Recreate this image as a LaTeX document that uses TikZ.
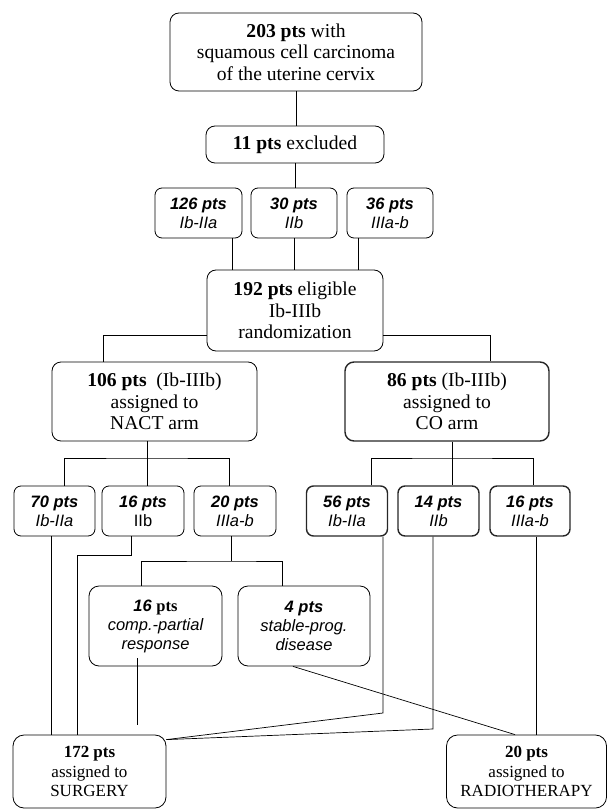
\documentclass[tikz,border=0pt]{standalone}
\usepackage{fontspec}
\setmainfont{Liberation Serif}
\newfontfamily\arialf{Liberation Sans}
\begin{document}
\begin{tikzpicture}[x=1pt,y=-1pt,
  box/.style={draw, line width=0.8pt, rounded corners=9pt, align=center, inner sep=0pt},
  big/.style={box, font=\fontsize{19.6}{21.3}\selectfont},
  end/.style={box, font=\fontsize{17}{19.5}\selectfont},
  sbox/.style={box, rounded corners=7pt, minimum height=50, font=\arialf\fontsize{16.5}{19}\selectfont},
  cobox/.style={line width=1.4pt, draw=black!85},
  conn/.style={line width=0.7pt}]
\useasboundingbox (0,0) rectangle (608,810);

% nodes
\node[big, minimum width=252, minimum height=78] (top) at (296,52)
  {\textbf{203 pts} with\\squamous cell carcinoma\\of the uterine cervix};
\node[big, minimum width=178, minimum height=37] (excl) at (295,144.5)
  {\textbf{11 pts} excluded};
\node[sbox, minimum width=87] (s1) at (198.5,213) {{\bfseries\itshape 126 pts}\\{\itshape Ib-IIa}};
\node[sbox, minimum width=86] (s2) at (294,213) {{\bfseries\itshape 30 pts}\\{\itshape IIb}};
\node[sbox, minimum width=86] (s3) at (390,213) {{\bfseries\itshape 36 pts}\\{\itshape IIIa-b}};
\node[big, minimum width=176, minimum height=81] (elig) at (295,310.5)
  {\textbf{192 pts} eligible\\Ib-IIIb\\randomization};
\node[big, minimum width=205, minimum height=79] (nact) at (154.5,401.5)
  {\textbf{106 pts}~~(Ib-IIIb)\\assigned to\\NACT arm};
\node[big, cobox, minimum width=204, minimum height=79] (co) at (447,401.5)
  {\textbf{86 pts} (Ib-IIIb)\\assigned to\\CO arm};
\node[sbox, minimum width=81] (n1) at (54.5,511) {{\bfseries\itshape 70 pts}\\{\itshape Ib-IIa}};
\node[sbox, minimum width=82] (n2) at (143,511) {{\bfseries\itshape 16 pts}\\IIb};
\node[sbox, minimum width=82] (n3) at (235,511) {{\bfseries\itshape 20 pts}\\{\itshape IIIa-b}};
\node[sbox, cobox, minimum width=81] (c1) at (347,511) {{\bfseries\itshape 56 pts}\\{\itshape Ib-IIa}};
\node[sbox, cobox, minimum width=81] (c2) at (438.5,511) {{\bfseries\itshape 14 pts}\\{\itshape IIb}};
\node[sbox, cobox, minimum width=80] (c3) at (530,511) {{\bfseries\itshape 16 pts}\\{\itshape IIIa-b}};
\node[sbox, rounded corners=10pt, minimum width=133, minimum height=80] (comp) at (155.5,626)
  {{\bfseries\itshape 16} {\rmfamily\bfseries pts}\\{\itshape comp.-partial}\\{\itshape response}};
\node[sbox, rounded corners=10pt, minimum width=132, minimum height=80] (stable) at (304,626)
  {{\bfseries\itshape 4 pts}\\{\itshape stable-prog.}\\{\itshape disease}};
\node[end, rounded corners=11pt, minimum width=153, minimum height=73] (surg) at (89.5,771.5)
  {\textbf{172 pts}\\assigned to\\SURGERY};
\node[end, rounded corners=11pt, minimum width=160, minimum height=73] (radio) at (526.5,771.5)
  {\textbf{20 pts}\\assigned to\\RADIOTHERAPY};

% helper coordinates
\coordinate (nbar) at (147,458);
\coordinate (cbar) at (452,458);
\coordinate (n2k) at (77,555);
\coordinate (n3bar) at (231,561);
\coordinate (compend) at (137,725);
\coordinate (c1k) at (383,713);
\coordinate (c2k) at (433,729);

% connectors
\draw[conn] (top.south) -- (top.south |- excl.north);
\draw[conn] (excl.south) -- (excl.south |- s2.north);
\draw[conn] ([xshift=33.5]s1.south) -- ([xshift=33.5]s1.south |- elig.north);
\draw[conn] (s2.south) -- (s2.south |- elig.north);
\draw[conn] ([xshift=-32]s3.south) -- ([xshift=-32]s3.south |- elig.north);
\draw[conn] ([yshift=-24.5]elig.west) -| ([xshift=-51.5]nact.north);
\draw[conn] ([yshift=-24.5]elig.east) -| ([xshift=43]co.north);

\draw[conn] ([xshift=-7.5]nact.south) -- ([xshift=-7.5]nact.south |- n2.north);
\draw[conn] ([xshift=9.5]n1.north) |- (nbar) -| ([xshift=-6]n3.north);
\draw[conn] ([xshift=5]co.south) -- ([xshift=5]co.south |- c2.north);
\draw[conn] ([xshift=24]c1.north) |- (cbar) -| ([xshift=3]c3.north);

\draw[conn] ([xshift=-3.5]n1.south) -- ([xshift=-3.5]n1.south |- surg.north);
\draw[conn] ([xshift=-12]n2.south) |- (n2k) -- (n2k |- surg.north);
\draw[conn] ([xshift=-4]n3.south) -- (n3bar);
\draw[conn] ([xshift=-14.5]comp.north) |- (n3bar) -| ([xshift=-22]stable.north);
\draw[conn] ([xshift=-18.5,yshift=8]comp.south) -- (compend);
\draw[conn] ([xshift=-11]stable.south) -- ([xshift=-11.5]radio.north);
\draw[conn] ([xshift=36]c1.south) -- (c1k) -- ([yshift=-5]surg.north east);
\draw[conn] ([xshift=-5.5]c2.south) -- (c2k) -- ([yshift=-5]surg.north east);
\draw[conn] ([xshift=6]c3.south) -- ([xshift=6]c3.south |- radio.north);
\end{tikzpicture}
\end{document}
